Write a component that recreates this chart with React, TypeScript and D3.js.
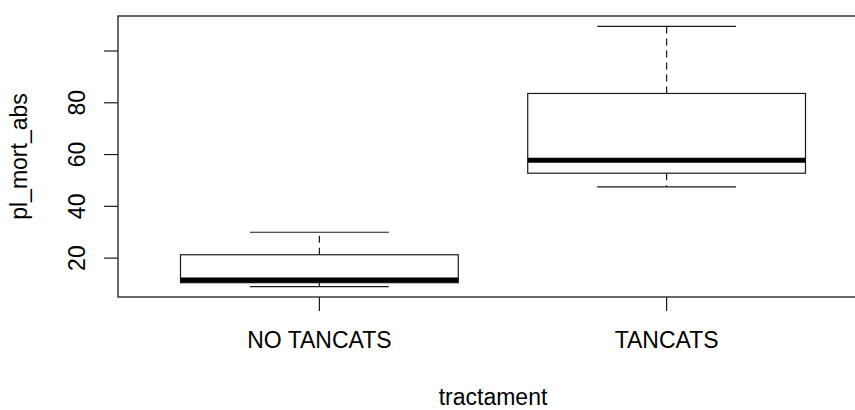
import * as d3 from "d3";
import { useEffect } from "react";

// groups and five-number summaries
const groups = ["NO TANCATS", "TANCATS"];
const lowWhisker = [9, 47.5];
const lowerHinge = [10.5, 52.8];
const medians = [11.5, 57.8];
const upperHinge = [21.3, 83.6];
const highWhisker = [30, 109.5];
const yTicks = [20, 40, 60, 80, 100];
const yTickLabels = ["20", "40", "60", "80", ""];

const xTitle = "tractament";
const yTitle = "pl_mort_abs";

const W = 855;
const H = 410;
const plot = { left: 118, right: 868, top: 16, bottom: 297 };
const font = "'Liberation Sans', Arial, sans-serif";
const fs = 23;
const ink = "#1a1a1a";

const App = () => {
    useEffect(() => {
        document.body.style.margin = "0";
    }, []);

    // R style: xlim = c(0.5, n + 0.5), extended 4% each side
    const n = groups.length;
    const x = d3.scaleLinear()
        .domain([0.5 - 0.04 * n, n + 0.5 + 0.04 * n])
        .range([plot.left, plot.right]);

    const lo = d3.min(lowWhisker) as number;
    const hi = d3.max(highWhisker) as number;
    const ext = (hi - lo) * 0.04;
    const y = d3.scaleLinear()
        .domain([lo - ext, hi + ext])
        .range([plot.bottom, plot.top]);

    const boxHalf = 0.4;
    const capHalf = 0.2;

    return (
        <svg width={W} height={H} style={{ display: "block", background: "#fff" }}>
            {groups.map((g, i) => {
                const c = i + 1;
                const cx = x(c);
                return (
                    <g key={g} stroke={ink} strokeWidth={1.2} fill="none">
                        {/* whiskers */}
                        <line x1={cx} x2={cx} y1={y(upperHinge[i])} y2={y(highWhisker[i])} strokeDasharray="7,5" />
                        <line x1={cx} x2={cx} y1={y(lowerHinge[i])} y2={y(lowWhisker[i])} strokeDasharray="7,5" />
                        <line x1={x(c - capHalf)} x2={x(c + capHalf)} y1={y(highWhisker[i])} y2={y(highWhisker[i])} />
                        <line x1={x(c - capHalf)} x2={x(c + capHalf)} y1={y(lowWhisker[i])} y2={y(lowWhisker[i])} />
                        {/* box */}
                        <rect
                            x={x(c - boxHalf)}
                            y={y(upperHinge[i])}
                            width={x(c + boxHalf) - x(c - boxHalf)}
                            height={y(lowerHinge[i]) - y(upperHinge[i])}
                            fill="#fff"
                        />
                        {/* median */}
                        <line x1={x(c - boxHalf)} x2={x(c + boxHalf)} y1={y(medians[i])} y2={y(medians[i])} strokeWidth={5} stroke="#000" />
                    </g>
                );
            })}

            {/* frame */}
            <rect
                x={plot.left}
                y={plot.top}
                width={plot.right - plot.left}
                height={plot.bottom - plot.top}
                fill="none"
                stroke={ink}
                strokeWidth={1.3}
            />

            {/* y axis */}
            <g stroke={ink} strokeWidth={1.2}>
                {yTicks.map(t => (
                    <line key={t} x1={plot.left - 14} x2={plot.left} y1={y(t)} y2={y(t)} />
                ))}
            </g>
            {yTicks.map((t, i) => (
                <text
                    key={"l" + t}
                    transform={`translate(${plot.left - 33},${y(t)}) rotate(-90)`}
                    textAnchor="middle"
                    fontFamily={font}
                    fontSize={fs}
                    fill="#000"
                >
                    {yTickLabels[i]}
                </text>
            ))}

            {/* x axis */}
            <g stroke={ink} strokeWidth={1.2}>
                {groups.map((g, i) => (
                    <line key={g} x1={x(i + 1)} x2={x(i + 1)} y1={plot.bottom} y2={plot.bottom + 14} />
                ))}
            </g>
            {groups.map((g, i) => (
                <text
                    key={"t" + g}
                    x={x(i + 1)}
                    y={348}
                    textAnchor="middle"
                    fontFamily={font}
                    fontSize={fs}
                    fill="#000"
                >
                    {g}
                </text>
            ))}

            {/* titles */}
            <text
                x={(plot.left + plot.right) / 2}
                y={405}
                textAnchor="middle"
                fontFamily={font}
                fontSize={fs}
                fill="#000"
            >
                {xTitle}
            </text>
            <text
                transform={`translate(27,${(plot.top + plot.bottom) / 2}) rotate(-90)`}
                textAnchor="middle"
                fontFamily={font}
                fontSize={fs}
                fill="#000"
            >
                {yTitle}
            </text>
        </svg>
    );
};

export default App;
